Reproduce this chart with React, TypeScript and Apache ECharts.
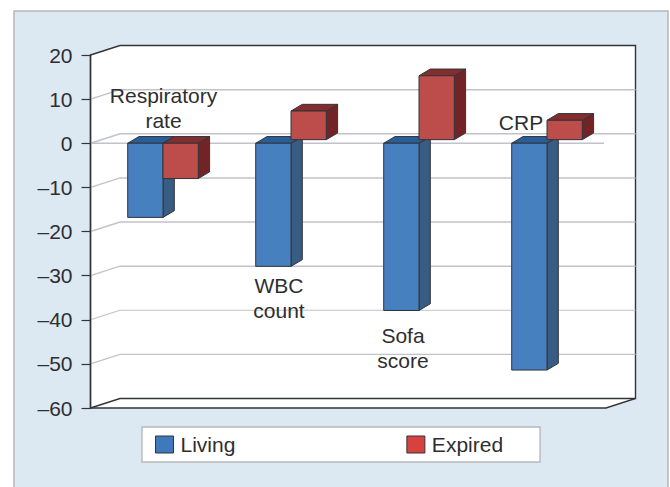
import React, { useEffect, useRef } from "react";
import * as echarts from "echarts";

const categories = ["Respiratory\nrate", "WBC\ncount", "Sofa\nscore", "CRP"];
const livingValues = [-16.8, -27.9, -37.9, -51.4];
const expiredValues = [-8, 7.3, 15.3, 5.2];
const yTicks = [20, 10, 0, -10, -20, -30, -40, -50, -60];

const FONT = '"Liberation Sans", Arial, sans-serif';
const TEXT = "#2e2e30";
const EDGE = "#33343a";
const GRID = "#c2c3c9";
const DEPTH_X = 29.5;
const DEPTH_Y = -9.5;
const BAR_W = 35.3;
const BAR_DX = 11.3;
const BAR_DY = -6.7;
const RAISE = 3.6; // upward bars float slightly above the zero line

const labelPlacement = [
  { x: 163.5, y: 108 },
  { x: 279, y: 298 },
  { x: 403, y: 348 },
  { x: 521, y: 122 },
];

const palette = {
  living: { front: "#4680bf", top: "#285f9b", side: "#385c83", legend: "#3f78bb" },
  expired: { front: "#bc4d4b", top: "#842d2e", side: "#722325", legend: "#d7423e" },
};

function barItem(colors: typeof palette.living, isExpired: boolean) {
  return (_params: any, api: any) => {
    const cat = api.value(0);
    const val = api.value(1);
    const centre = api.coord([cat, 0]);
    const end = api.coord([cat, val]);
    const left = isExpired ? centre[0] : centre[0] - BAR_W;
    const right = left + BAR_W;
    const shift = val > 0 ? RAISE : 0;
    const top = Math.min(centre[1], end[1]);
    const bottom = Math.max(centre[1] - shift, end[1]);
    const line = { stroke: EDGE, lineWidth: 1, lineJoin: "round" };
    return {
      type: "group",
      children: [
        {
          type: "polygon",
          shape: { points: [[right, top], [right + BAR_DX, top + BAR_DY], [right + BAR_DX, bottom + BAR_DY], [right, bottom]] },
          style: { fill: colors.side, ...line },
        },
        {
          type: "polygon",
          shape: { points: [[left, top], [left + BAR_DX, top + BAR_DY], [right + BAR_DX, top + BAR_DY], [right, top]] },
          style: { fill: colors.top, ...line },
        },
        {
          type: "rect",
          shape: { x: left, y: top, width: BAR_W, height: bottom - top },
          style: { fill: colors.front, ...line },
        },
      ],
    };
  };
}

function wallItem(params: any, api: any) {
  const tick = api.value(1);
  const cs = params.coordSys;
  const y = api.coord([0, tick])[1];
  const xL = cs.x;
  const xR = cs.x + cs.width;
  const yT = cs.y;
  const yB = cs.y + cs.height;
  const children: any[] = [];
  if (params.dataIndex === 0) {
    const outline = [
      [xL, yT], [xL + DEPTH_X, yT + DEPTH_Y], [xR + DEPTH_X, yT + DEPTH_Y],
      [xR + DEPTH_X, yB + DEPTH_Y], [xR, yB], [xL, yB],
    ];
    children.push({ type: "polygon", shape: { points: outline }, style: { fill: "#ffffff", stroke: EDGE, lineWidth: 1.4 } });
    children.push({
      type: "polyline",
      shape: { points: [[xL, yB], [xL + DEPTH_X, yB + DEPTH_Y], [xR + DEPTH_X, yB + DEPTH_Y]] },
      style: { fill: "none", stroke: EDGE, lineWidth: 1.4 },
    });
  } else if (tick !== yTicks[yTicks.length - 1]) {
    children.push({
      type: "polyline",
      shape: { points: [[xL, y], [xL + DEPTH_X, y + DEPTH_Y], [xR + DEPTH_X, y + DEPTH_Y]] },
      style: { fill: "none", stroke: GRID, lineWidth: tick >= -30 ? 1.5 : 1.2 },
    });
    if (tick === 0) {
      children.push({
        type: "line",
        shape: { x1: xL, y1: y, x2: xR - 2, y2: y },
        style: { stroke: GRID, lineWidth: 1.5 },
      });
    }
  }
  return { type: "group", children };
}

export default function App() {
  const ref = useRef<HTMLDivElement>(null);
  useEffect(() => {
    document.body.style.margin = "0";
    const chart = echarts.init(ref.current!, null, { renderer: "svg" });
    const hiddenX = { type: "category", data: categories, show: false };
    const hiddenY = { type: "value", min: -60, max: 20, interval: 10 };
    chart.setOption({
      animation: false,
      backgroundColor: "#ffffff",
      textStyle: { fontFamily: FONT },
      grid: [
        { left: 90.5, top: 55, width: 515.5, height: 353 },
        { left: 99, top: 55, width: 512, height: 353 },
      ],
      xAxis: [
        { ...hiddenX, gridIndex: 0 },
        { ...hiddenX, gridIndex: 1 },
      ],
      yAxis: [
        {
          ...hiddenY,
          gridIndex: 0,
          z: 5,
          axisLine: { show: true, lineStyle: { color: EDGE, width: 1.4 } },
          axisTick: { show: true, length: 9, lineStyle: { color: EDGE, width: 1.2 } },
          splitLine: { show: false },
          axisLabel: {
            margin: 18,
            color: TEXT,
            fontSize: 21,
            fontFamily: FONT,
            formatter: (v: number) => String(v).replace("-", "\u2013"),
          },
        },
        { ...hiddenY, gridIndex: 1, show: false, splitLine: { show: false } },
      ],
      legend: {
        left: 142,
        top: 427,
        padding: [7, 37, 7, 13],
        backgroundColor: "#ffffff",
        borderColor: "#b7b8bb",
        borderWidth: 1.4,
        orient: "horizontal",
        itemWidth: 18,
        itemHeight: 17,
        itemGap: 171,
        icon: "rect",
        selectedMode: false,
        textStyle: { color: TEXT, fontSize: 21, fontFamily: FONT, padding: [0, 0, 0, 2] },
        data: [
          { name: "Living", itemStyle: { color: palette.living.legend, borderColor: EDGE, borderWidth: 1 } },
          { name: "Expired", itemStyle: { color: palette.expired.legend, borderColor: EDGE, borderWidth: 1 } },
        ],
      },
      graphic: [
        {
          type: "rect",
          z: -10,
          shape: { x: 14, y: 11, width: 654, height: 500 },
          style: { fill: "#dce9f3", stroke: "#b5b6b9", lineWidth: 1.5 },
        },
        ...categories.map((text, i) => ({
          type: "text",
          z: 20,
          x: labelPlacement[i].x,
          y: labelPlacement[i].y,
          style: {
            text,
            fill: TEXT,
            font: `21px ${FONT}`,
            lineHeight: 24.5,
            align: "center",
            verticalAlign: "middle",
          },
        })),
      ],
      series: [
        {
          type: "custom",
          xAxisIndex: 0,
          yAxisIndex: 0,
          z: 1,
          silent: true,
          clip: false,
          renderItem: wallItem,
          encode: { x: 0, y: 1 },
          data: yTicks.map((t) => [0, t]),
        },
        {
          name: "Living",
          type: "custom",
          xAxisIndex: 1,
          yAxisIndex: 1,
          z: 3,
          clip: false,
          renderItem: barItem(palette.living, false),
          encode: { x: 0, y: 1 },
          data: livingValues.map((v, i) => [i, v]),
        },
        {
          name: "Expired",
          type: "custom",
          xAxisIndex: 1,
          yAxisIndex: 1,
          z: 4,
          clip: false,
          renderItem: barItem(palette.expired, true),
          encode: { x: 0, y: 1 },
          data: expiredValues.map((v, i) => [i, v]),
        },
      ],
    });
    return () => chart.dispose();
  }, []);
  return <div ref={ref} style={{ width: 670, height: 487 }} />;
}
